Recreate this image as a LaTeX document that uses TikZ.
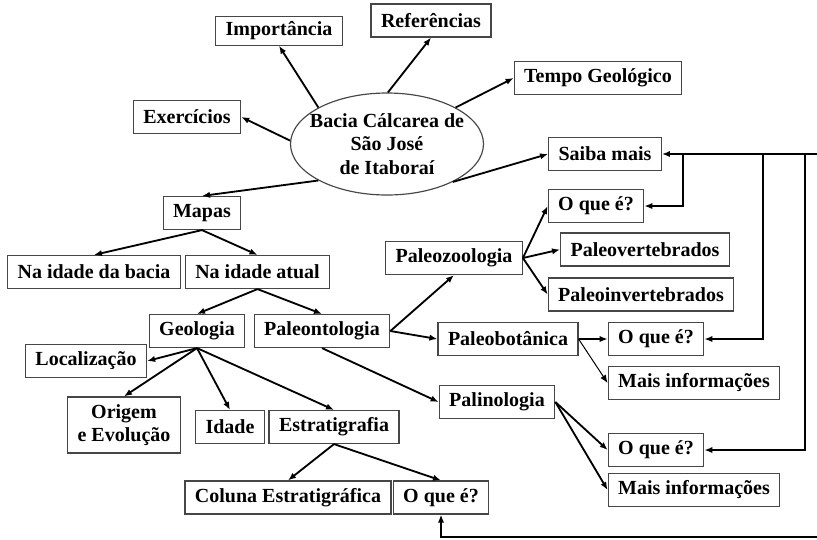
\documentclass[tikz,border=0pt]{standalone}
\usepackage{fontspec}
\setmainfont{Liberation Serif}
\usetikzlibrary{shapes.geometric,arrows.meta}
\definecolor{borda}{RGB}{70,70,70}
\definecolor{preto}{RGB}{0,0,0}

\tikzset{
	caixa/.style={draw=borda,line width=0.7pt,fill=white,inner xsep=6pt,inner ysep=3pt,minimum height=19.8pt,font=\fontsize{12}{14}\selectfont\bfseries,align=center},
	seta/.style={preto,line width=1.1pt,-{Latex[length=4.8pt,width=3.8pt]}},
	setafina/.style={preto,line width=0.6pt,-{Latex[length=4.8pt,width=3.8pt]}}
}

\begin{document}
\begin{tikzpicture}[x=0.6pt,y=-0.6pt]
	\useasboundingbox (0,0) rectangle (817,539);

	\node[ellipse,draw=borda,line width=0.7pt,minimum width=115.8pt,minimum height=61.2pt,inner xsep=-5.4pt,inner ysep=0pt,align=center,font=\fontsize{12}{14}\selectfont\bfseries] (bacia) at (387,144) {Bacia Cálcarea de\\São José\\de Itaboraí};
	\node[caixa,minimum height=16.8pt] (imp) at (279,31) {Importância};
	\node[caixa] (ref) at (431,20.5) {Referências};
	\node[caixa] (tempo) at (598,78) {Tempo Geológico};
	\node[caixa] (exe) at (187,117) {Exercícios};
	\node[caixa] (saiba) at (605,154) {Saiba mais};
	\node[caixa] (mapas) at (202,213) {Mapas};
	\node[caixa] (nib) at (94,272) {Na idade da bacia};
	\node[caixa] (nia) at (257.5,272) {Na idade atual};
	\node[caixa] (geo) at (197,331) {Geologia};
	\node[caixa] (pont) at (322,331) {Paleontologia};
	\node[caixa] (loc) at (86,361) {Localização};
	\node[caixa,minimum height=33.6pt] (orig) at (124,425) {Origem\\e Evolução};
	\node[caixa] (idade) at (230,427) {Idade};
	\node[caixa] (estr) at (334,427) {Estratigrafia};
	\node[caixa] (col) at (288,497.5) {Coluna Estratigráfica};
	\node[caixa] (oq2) at (441,497.5) {O que é?};
	\node[caixa] (pzoo) at (454,258) {Paleozoologia};
	\node[caixa] (oq1) at (596,206) {O que é?};
	\node[caixa] (pvert) at (645,249.5) {Paleovertebrados};
	\node[caixa] (pinv) at (641,294.5) {Paleoinvertebrados};
	\node[caixa] (pbot) at (508,339) {Paleobotânica};
	\node[caixa] (oq3) at (656,339) {O que é?};
	\node[caixa] (mais1) at (694,383) {Mais informações};
	\node[caixa] (pal) at (497,402) {Palinologia};
	\node[caixa] (oq4) at (656,450) {O que é?};
	\node[caixa] (mais2) at (694,490) {Mais informações};

	\foreach \x/\y in {bacia.152/imp.south,bacia.89/ref.south,bacia.28/tempo.west,bacia.178/exe.east,bacia.208/mapas.north,bacia.330/saiba.west,
		mapas.south/nib.north,mapas.south/nia.north,nia.south/geo.north,nia.south/pont.north,
		geo.south/loc.east,geo.south/orig.north,geo.south/idade.north,geo.south/estr.north,estr.south/col.north,estr.south/oq2.north,
		pont.east/pzoo.south,pont.east/pbot.west,pont.south/pal.west,pzoo.east/oq1.west,pzoo.east/pvert.west,pzoo.east/pinv.west,
		pbot.east/oq3.west,pal.east/oq4.west,pal.east/mais2.west}
		\draw[seta] (\x) -- (\y);
	\draw[setafina] (pbot.east) -- (mais1.west);

	% ligacoes de retorno
	\coordinate (d1) at (817,154);
	\coordinate (d2) at (817,537);
	\coordinate (j1) at (683,154);
	\coordinate (j2) at (763,154);
	\coordinate (j3) at (805,154);
	\draw[seta] (d1) -- (saiba.east);
	\draw[seta] (j1) |- (oq1.east);
	\draw[seta] (j2) |- (oq3.east);
	\draw[seta] (j3) |- (oq4.east);
	\draw[seta] (d2) -| (oq2.south);
\end{tikzpicture}
\end{document}
